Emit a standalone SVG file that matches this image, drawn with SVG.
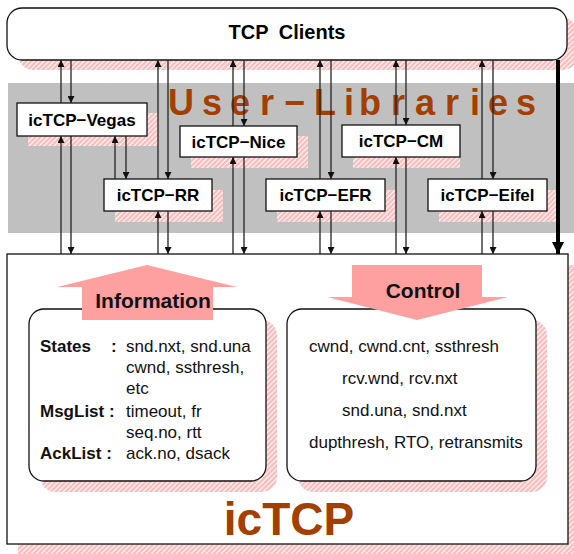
<svg xmlns="http://www.w3.org/2000/svg" width="574" height="554" viewBox="0 0 574 554">
<defs>
<pattern id="hatch" patternUnits="userSpaceOnUse" width="5" height="5">
<rect width="5" height="5" fill="#ffbcbc"/>
<path d="M-1,1 l2,-2 M0,5 l5,-5 M4,6 l2,-2" stroke="#ffffff" stroke-width="1.1"/>
</pattern>
<marker id="ah" markerUnits="userSpaceOnUse" viewBox="0 0 10 10" refX="10" refY="5" markerWidth="9" markerHeight="7" orient="auto">
<path d="M0,0 L10,5 L0,10 z" fill="#111"/>
</marker>
<marker id="ahBig" markerUnits="userSpaceOnUse" viewBox="0 0 10 10" refX="10" refY="5" markerWidth="15" markerHeight="12" orient="auto">
<path d="M0,0 L10,5 L0,10 z" fill="#000"/>
</marker>
</defs>
<style>
.shadow{fill:url(#hatch);stroke:none}
.box{fill:#fff;stroke:#111;stroke-width:1.3}
.lib{font-family:"Liberation Sans",Arial,sans-serif;font-weight:bold;font-size:17px;fill:#000;text-anchor:middle}
.t{font-family:"Liberation Sans",Arial,sans-serif;font-size:17px;fill:#111}
.tb{font-family:"Liberation Sans",Arial,sans-serif;font-size:17px;font-weight:bold;fill:#111}
.big{font-family:"Liberation Sans",Arial,sans-serif;font-weight:bold;fill:#a33f00}
.arrowfill{fill:#ffa0a0}
.hd{font-family:"Liberation Sans",Arial,sans-serif;font-weight:bold;font-size:21px;fill:#111;text-anchor:middle}
.c line{stroke:#222;stroke-width:1.3;marker-end:url(#ah)}
</style>

<g id="tcp-clients">
<rect class="shadow" x="18" y="18" width="560" height="52" rx="15"/>
<rect class="box" x="7" y="8" width="560" height="52" rx="15"/>
<text x="287" y="39" text-anchor="middle" font-family="'Liberation Sans',Arial,sans-serif" font-weight="bold" font-size="20" word-spacing="5">TCP Clients</text>
</g>

<g id="user-libraries">
<rect x="8" y="83" width="566" height="150" fill="#c0c0c0"/>
<text class="big" font-size="36" y="115" x="168 202 230 260 284 314 344 359 391 415 445 470 488 516">User−Libraries</text>
</g>

<g id="vegas">
<rect class="shadow" x="28" y="113" width="130" height="33"/>
<rect class="box" x="17" y="103" width="130" height="33"/>
<text class="lib" x="82" y="125.5">icTCP−Vegas</text>
</g>
<g id="nice">
<rect class="shadow" x="191" y="136" width="117" height="32"/>
<rect class="box" x="180" y="126" width="117" height="31"/>
<text class="lib" x="238.5" y="147.5">icTCP−Nice</text>
</g>
<g id="cm">
<rect class="shadow" x="353" y="135" width="107" height="33"/>
<rect class="box" x="342" y="125" width="118" height="32"/>
<text class="lib" x="401" y="147">icTCP−CM</text>
</g>
<g id="rr">
<rect class="shadow" x="115" y="190" width="108" height="32"/>
<rect class="box" x="104" y="179" width="108" height="32"/>
<text class="lib" x="158" y="201">icTCP−RR</text>
</g>
<g id="efr">
<rect class="shadow" x="277" y="190" width="119" height="32"/>
<rect class="box" x="266" y="179" width="119" height="32"/>
<text class="lib" x="325.5" y="201">icTCP−EFR</text>
</g>
<g id="eifel">
<rect class="shadow" x="439" y="190" width="119" height="32"/>
<rect class="box" x="428" y="179" width="119" height="32"/>
<text class="lib" x="487.5" y="201">icTCP−Eifel</text>
</g>

<g id="ictcp">
<rect class="shadow" x="18" y="265" width="561" height="290"/>
<rect class="box" x="7" y="254" width="561" height="290"/>
<text class="big" font-size="46" x="289" y="535" text-anchor="middle">icTCP</text>
</g>

<g id="information">
<rect class="shadow" x="40" y="320" width="237" height="172" rx="15"/>
<rect class="box" x="29" y="309" width="237" height="172" rx="15"/>
<polygon class="arrowfill" points="147,265 237,287 213,287 213,320 82,320 82,287 57,287"/>
<text class="hd" x="153" y="308">Information</text>
<text class="tb" x="40" y="352">States</text>
<text class="tb" x="111" y="352">:</text>
<text class="t" x="126" y="352">snd.nxt, snd.una</text>
<text class="t" x="126" y="373">cwnd, ssthresh,</text>
<text class="t" x="126" y="394">etc</text>
<text class="tb" x="40" y="417">MsgList :</text>
<text class="t" x="126" y="417">timeout, fr</text>
<text class="t" x="126" y="438">seq.no, rtt</text>
<text class="tb" x="40" y="459">AckList :</text>
<text class="t" x="126" y="459">ack.no, dsack</text>
</g>

<g id="control">
<rect class="shadow" x="298" y="320" width="249" height="172" rx="15"/>
<rect class="box" x="287" y="309" width="249" height="172" rx="15"/>
<polygon class="arrowfill" points="352,265 482,265 482,297 508,297 417,320 327,297 352,297"/>
<text class="hd" x="423" y="298">Control</text>
<text class="t" x="309" y="352">cwnd, cwnd.cnt, ssthresh</text>
<text class="t" x="342" y="384">rcv.wnd, rcv.nxt</text>
<text class="t" x="342" y="416">snd.una, snd.nxt</text>
<text class="t" x="309" y="448">dupthresh, RTO, retransmits</text>
</g>

<g id="connectors" class="c">
<line x1="61" y1="103" x2="61" y2="60"/>
<line x1="61" y1="254" x2="61" y2="136"/>
<line x1="71" y1="60" x2="71" y2="103"/>
<line x1="71" y1="136" x2="71" y2="254"/>
<line x1="115" y1="179" x2="115" y2="136"/>
<line x1="126" y1="136" x2="126" y2="179"/>
<line x1="158" y1="179" x2="158" y2="60"/>
<line x1="158" y1="254" x2="158" y2="211"/>
<line x1="168" y1="60" x2="168" y2="179"/>
<line x1="168" y1="211" x2="168" y2="254"/>
<line x1="233" y1="126" x2="233" y2="60"/>
<line x1="233" y1="254" x2="233" y2="157"/>
<line x1="244" y1="60" x2="244" y2="126"/>
<line x1="244" y1="157" x2="244" y2="254"/>
<line x1="320" y1="179" x2="320" y2="60"/>
<line x1="320" y1="254" x2="320" y2="211"/>
<line x1="331" y1="60" x2="331" y2="179"/>
<line x1="331" y1="211" x2="331" y2="254"/>
<line x1="396" y1="125" x2="396" y2="60"/>
<line x1="396" y1="254" x2="396" y2="157"/>
<line x1="406" y1="60" x2="406" y2="125"/>
<line x1="406" y1="157" x2="406" y2="254"/>
<line x1="482" y1="179" x2="482" y2="60"/>
<line x1="482" y1="254" x2="482" y2="211"/>
<line x1="493" y1="60" x2="493" y2="179"/>
<line x1="493" y1="211" x2="493" y2="254"/>
<line x1="558" y1="60" x2="558" y2="254" style="stroke:#000;stroke-width:4;marker-end:url(#ahBig)"/>
</g>
</svg>
